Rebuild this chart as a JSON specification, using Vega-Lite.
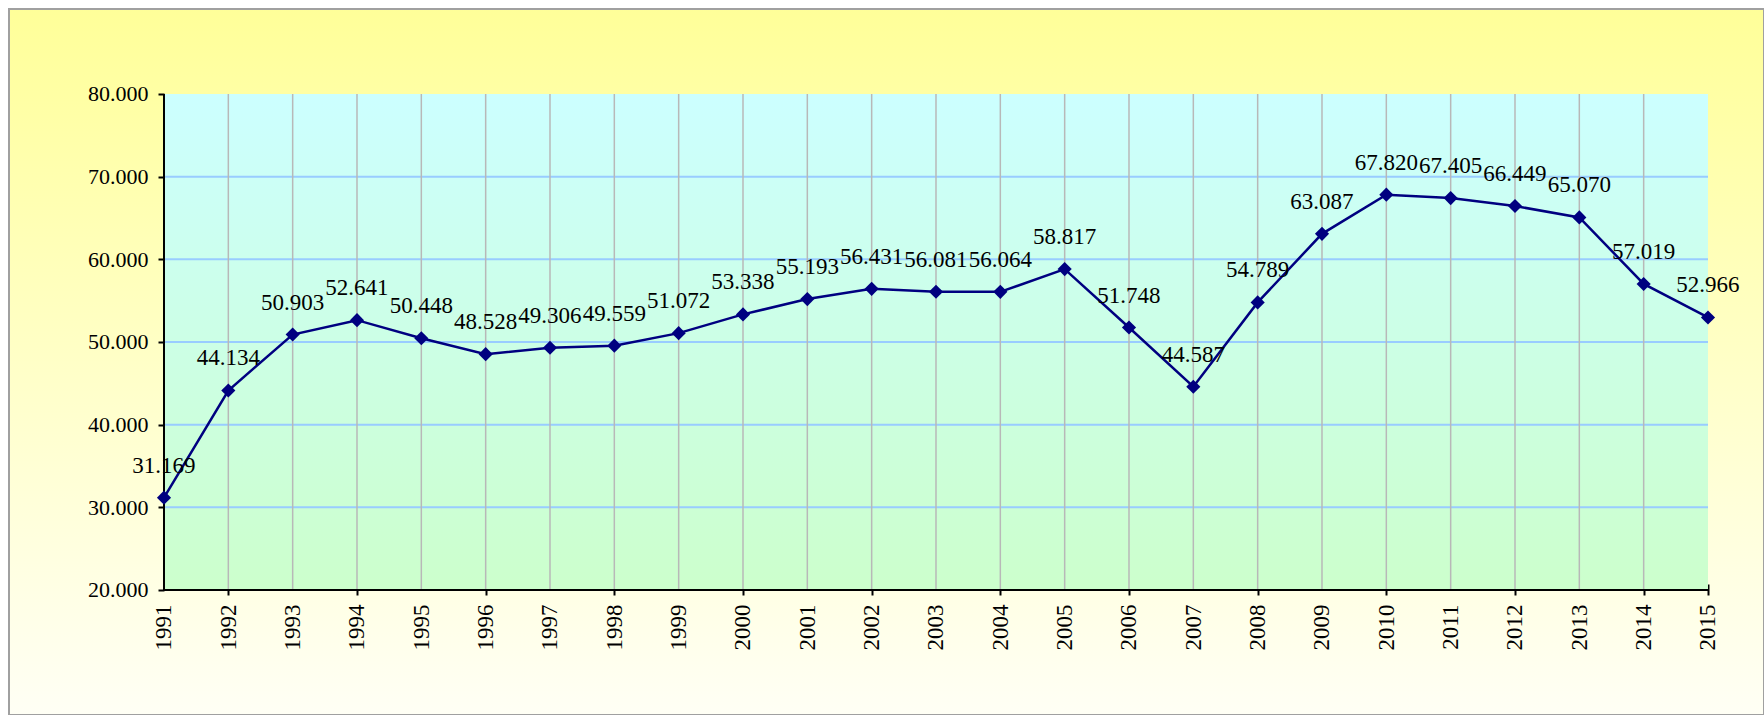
{
  "$schema": "https://vega.github.io/schema/vega-lite/v6.json",
  "width": 1755,
  "height": 706,
  "autosize": {"type": "none"},
  "padding": {"left": 9, "top": 9, "right": 0, "bottom": 0},
  "background": "#ffffff",
  "config": {
    "view": {
      "fill": {"gradient": "linear", "x1": 0, "y1": 0, "x2": 0, "y2": 1, "stops": [{"offset": 0, "color": "#FFFF99"}, {"offset": 1, "color": "#FFFFF5"}]},
      "stroke": "#A0A0A0",
      "strokeWidth": 2
    }
  },
  "datasets": {
    "series": [
      {"year": 1991, "value": 31.169},
      {"year": 1992, "value": 44.134},
      {"year": 1993, "value": 50.903},
      {"year": 1994, "value": 52.641},
      {"year": 1995, "value": 50.448},
      {"year": 1996, "value": 48.528},
      {"year": 1997, "value": 49.306},
      {"year": 1998, "value": 49.559},
      {"year": 1999, "value": 51.072},
      {"year": 2000, "value": 53.338},
      {"year": 2001, "value": 55.193},
      {"year": 2002, "value": 56.431},
      {"year": 2003, "value": 56.081},
      {"year": 2004, "value": 56.064},
      {"year": 2005, "value": 58.817},
      {"year": 2006, "value": 51.748},
      {"year": 2007, "value": 44.587},
      {"year": 2008, "value": 54.789},
      {"year": 2009, "value": 63.087},
      {"year": 2010, "value": 67.82},
      {"year": 2011, "value": 67.405},
      {"year": 2012, "value": 66.449},
      {"year": 2013, "value": 65.07},
      {"year": 2014, "value": 57.019},
      {"year": 2015, "value": 52.966}
    ],
    "hgrid": [{"v": 30}, {"v": 40}, {"v": 50}, {"v": 60}, {"v": 70}],
    "frame": [{"x0": 1991, "x1": 2015, "y0": 20, "y1": 80}]
  },
  "resolve": {"axis": {"x": "independent", "y": "independent"}},
  "layer": [
    {
      "data": {"name": "frame"},
      "mark": {"type": "rect", "fill": {"gradient": "linear", "x1": 0, "y1": 0, "x2": 0, "y2": 1, "stops": [{"offset": 0, "color": "#CCFFFF"}, {"offset": 1, "color": "#CCFFCC"}]}},
      "encoding": {
        "x": {"field": "x0", "type": "quantitative", "scale": {"domain": [1988.5907, 2015.8705], "nice": false, "zero": false}, "axis": null},
        "x2": {"field": "x1"},
        "y": {"field": "y0", "type": "quantitative", "scale": {"domain": [4.879, 90.282], "nice": false, "zero": false}, "axis": null},
        "y2": {"field": "y1"}
      }
    },
    {
      "data": {"name": "hgrid"},
      "mark": {"type": "rule", "color": "#99CCFF", "strokeWidth": 2},
      "encoding": {
        "y": {"field": "v", "type": "quantitative", "axis": null},
        "x": {"datum": 1991, "type": "quantitative", "axis": null},
        "x2": {"datum": 2015}
      }
    },
    {
      "data": {"name": "series"},
      "transform": [{"filter": "datum.year > 1991 && datum.year < 2015"}],
      "mark": {"type": "rule", "color": "#B8B8B8", "strokeWidth": 1.5},
      "encoding": {
        "x": {"field": "year", "type": "quantitative", "axis": null},
        "y": {"datum": 20, "type": "quantitative", "axis": null},
        "y2": {"datum": 80}
      }
    },
    {
      "data": {"values": [{}]},
      "mark": {"type": "rule", "color": "#000000", "strokeWidth": 2},
      "encoding": {
        "x": {"datum": 1991, "type": "quantitative", "axis": null},
        "y": {"datum": 20, "type": "quantitative", "axis": null},
        "y2": {"datum": 80}
      }
    },
    {
      "data": {"values": [{}]},
      "mark": {"type": "rule", "color": "#000000", "strokeWidth": 2},
      "encoding": {
        "y": {"datum": 20, "type": "quantitative", "axis": null},
        "x": {"datum": 1991, "type": "quantitative", "axis": null},
        "x2": {"datum": 2015}
      }
    },
    {
      "data": {"name": "series"},
      "mark": {"type": "line", "color": "#000080", "strokeWidth": 2.5},
      "encoding": {
        "x": {"field": "year", "type": "quantitative", "axis": {"orient": "bottom", "values": [1991,1992,1993,1994,1995,1996,1997,1998,1999,2000,2001,2002,2003,2004,2005,2006,2007,2008,2009,2010,2011,2012,2013,2014,2015], "format": "d", "labelAngle": 270, "labelAlign": "right", "labelBaseline": "middle", "labelFont": "Liberation Serif", "labelFontSize": 23, "labelColor": "#000000", "ticks": false, "tickSize": 0, "domain": false, "grid": false, "title": null, "offset": -125, "labelPadding": 14, "labelOverlap": false}},
        "y": {"field": "value", "type": "quantitative", "axis": {"orient": "left", "values": [20,30,40,50,60,70,80], "format": ".3f", "labelFont": "Liberation Serif", "labelFontSize": 22, "labelColor": "#000000", "tickSize": 6, "tickColor": "#000000", "tickWidth": 2, "domain": false, "grid": false, "title": null, "offset": -155, "labelPadding": 10, "labelOverlap": false, "labelBound": false, "labelFlush": false}}
      }
    },
    {
      "data": {"name": "series"},
      "mark": {"type": "point", "shape": "diamond", "filled": true, "size": 200, "color": "#000080", "opacity": 1},
      "encoding": {
        "x": {"field": "year", "type": "quantitative", "axis": {"orient": "bottom", "values": [1992,1994,1996,1998,2000,2002,2004,2006,2008,2010,2012,2014,2015], "labels": false, "domain": false, "grid": false, "ticks": true, "tickSize": 11, "tickColor": "#000000", "tickWidth": 2, "offset": -131, "title": null}},
        "y": {"field": "value", "type": "quantitative", "axis": null}
      }
    },
    {
      "data": {"name": "series"},
      "mark": {"type": "text", "font": "Liberation Serif", "fontSize": 23, "color": "#000000", "dy": -32, "baseline": "middle", "align": "center"},
      "encoding": {
        "x": {"field": "year", "type": "quantitative", "axis": null},
        "y": {"field": "value", "type": "quantitative", "axis": null},
        "text": {"field": "value", "type": "quantitative", "format": ".3f"}
      }
    }
  ]
}
